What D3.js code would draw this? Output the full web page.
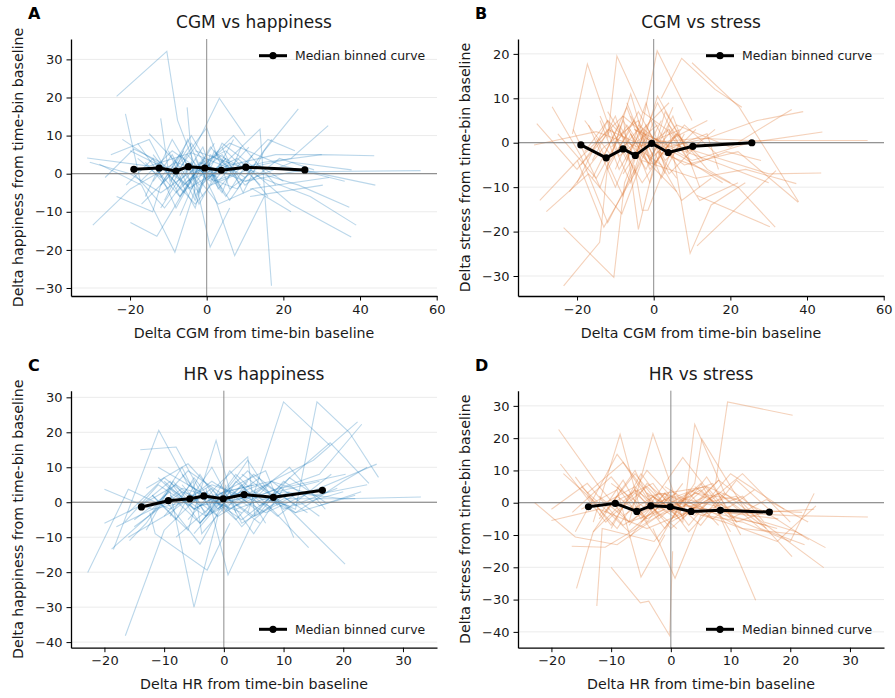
<!DOCTYPE html>
<html><head><meta charset="utf-8">
<script src="https://cdn.jsdelivr.net/npm/d3@7"></script>
<style>body{margin:0;background:#fff} text{font-family:"DejaVu Sans",sans-serif}</style>
</head><body><svg id="c" width="895" height="698"></svg>
<script>
// ---------- DATA ----------
const cgmX = [
 [-23.5,-10.4,-7.6,-3],[-31.2,-15,-4,7],[-29.7,-19.9,-8,3],[-30.5,-20,-12,-2],[-28,-17,-8.3,-3],
 [-21.2,-17.3,-9,1],[-26.5,-19,-12,-5],[-23.5,-14.1,-12,-6],[-19.9,-13,-5,2],[-12,-9.6,-3,3.3,10],
 [-5.1,-3,-1.5,4],[-8,-4,0.9,6],[-3,2,7.3,15],[5,13.9,16.9],[-1,12,25,55.8],
 [-2,10,25,44],[0,15,30,43.7],[3,14,27,39],[-5,8,22,37.7],[-3,11,24,37.2],
 [1,13,22,31.7],[4,9.5,15,23.9],[2,7.3,16,23],[-1,6,20,36],[-5,5,18,30],
 [-18,-11,-6,-1],[-16,-9,-2,5],[-14,-6,1,9],[-12,-4,3,11],[-20,-12,-3,6],
 [-17,-10,-4,4],[-9,-3,0.9,10],[-25,-15,-7,0],[-13,-7,-1,6,13],[-7,-1,5,12],
 [-15,-8,-2,4,12],[-11,-5,0,8,17],[-19,-11,-3,5,14],[-6,0,6,14,20],[-22,-13,-4,3],
 [-8,-2,7,18],[-4,3,12,22],[10,22.3,37.8],[11.3,31.9],[11.3,30.3],
 [-16,-10,-5,0,5],[-14,-9,-3,2,8],[-10,-6,-1,4,9],[-21,-14,-8,-2],[-6,-1,3,9,16],
 [-18,-12,-7,-2,3],[-2,4,10,19,28],[-12,-5,1,7]
];
const cgmHappy = [
 [20.3,32.1,14,2],[4.1,2,5.5,1],[-13.5,-4,3,-1],[3,0,-5,2],[2.5,-3,-20.6,-4],
 [15.7,-2,6,-1],[-1,6.5,3,-3],[-6,-10,-3,6],[-12.8,-16.4,-3,8],[14.5,-2,7,19.8,10],
 [17.4,-6,-3,2],[-4,3,-19.3,-9],[4,-6,-21.5,-6],[3,11.7,-29.4],[1,2,0.5,0.8],
 [3,-2,1,-3],[-1,3,5,4.7],[5,-1,-6,-13.5],[-2,4,-8,-16.6],[6,1,-3,-8.8],
 [-3,2,4,12.6],[7,-5,6,17],[-2,0,9,6],[2,8,2,-2],[-4,2,5,5],
 [8,-2,4,-6],[-6,9,-3,4],[5,-5,7,-3],[-3,10,-2,7],[6,2,-8,3],
 [-8,-1,8,-4],[2,-9,5,-1],[5,9,-6,3],[1,-6,4,-7,3],[-11,3,-6,5],
 [10.5,3,-5,8,2],[-7,5,-1,-4,9],[0,-9,2,6,-3],[4,12,-4,2,-2],[9,3,-4,6],
 [-5,1,10,-3],[1,-8,-4,-10],[-2,3,1],[-4,-1],[-6,-3],
 [3,-4,9,-2,4],[-2,5,-7,6,-1],[6,-3,2,-5,7],[-3,4,-9,2],[-1,7,-4,3,-6],
 [4,-1,5,-8,1],[0,5,-3,4,1],[-9,2,-2,9]
];
const cgmStress = [
 [-19.1,-30.3,-9,1],[-0.5,2.5,-1,3],[-13,-4,6,-2],[4.3,-6,3,-1],[-15.5,-7,-16,-4],
 [2,17.7,-3,4],[8.1,-3,-18,-6],[-32.2,-22.4,-5,3],[-4,-19,-7,5],[1,19.5,7,3,-5],
 [-5,-15.2,-15.2,-3],[6,-19.5,-2,-8],[-2,-5,-13,-8],[-1,2,-6],[0,1,0.5,0.5],
 [2,-4,0,2.4],[1,-3,-7,-6.8],[-1,1,5,7],[3,-5,-2,-13.4],[-4,-8,-6,-9.2],
 [-2,-6,-10,-19],[3,-24.9,-14,-9],[10,19,12,8],[-3,4,-1,7.5],[3,-1,-5,-9],
 [5,-3,11,-4],[-8,4,-6,8],[6,-9,10.5,-2],[-6,7,-4,3],[-9,5,-3,-11],
 [4,-10,2,9],[-2,4,20.7,5],[2,-8,4,-5],[-3,8,-6,2,-4],[9,-4,6,-10],
 [1,-12,4,-7,0],[-1,5,-5,4,-3],[-5,3,-9,1,5],[6,-3,2,-6,-9],[-11,-1,5,-7],
 [-7,1,-3,-9],[4,-1,-13,-9],[18,8,-13.3],[-23.2,-6.3],[-11.9,-18.9],
 [-4,6,-7,5,-3],[5,-6,3,-8,2],[-6,2,-9,4,-2],[3,-10,5,-4],[2,-5,7,-2,3],
 [-2,5,-4,9,-6],[-1,3,-5,-2,-4],[7,-3,9,-1]
];
const hrX = [
 [-22.8,-16,-9,-2],[-16.5,-10,-4,3],[-18.5,-10.9,-6,1],[-15,-9,-5,-1],[-12,-6,-1.3,2],
 [-3,0.7,5,10],[4,10,17.8],[5,12,15.6,21,25.9],[-4,6,16,23.1],[0,8,15,22.4],
 [2,9,17.8,24.3],[-1,7,16,25.6],[3,11,20.3],[-2,7.5,14.2],[1,7,11.7],
 [2,10,20,33],[-20,-12,-4,5],[-16.6,-11,-3,4,11],[-14,-8,-2,6],[-12,-7,-3,2,8],
 [-13,-8.5,-5,1],[-9,-4,2,4,9],[-6,-1,4,5.2,13],[-10,-5,0,5,10],[-15,-7,0,7,14],
 [-11,-3,3,9,16],[-8,-2,4,10,19],[-18,-12,-6,0,6],[-13,-6,1,8,16],[-5,0,6,12,22],
 [-10,-4,2,9,18],[-7,-1,5,11,17],[-16,-9,-2,4],[-3,2,8,15,24],[-1,5,12,20],
 [-6,-2,3,10,22],[-20,-14,-8,-1],[-10,-5.1,-3.7,-0.2,0.3],[-16,-10,-4,2],[-18.8,-12,-7,-1],
 [6,12,20,24],[7.5,9.5,20.4],[-15.8,-13,-9,-4],[-12.4,-11.5,-2.8,1],
 [-12,-8,-4,0,4],[-9,-5,-1,3,7],[-7,-3,1,6,11],[-14,-9,-4,1],[-4,1,6,11,17],
 [0,5,10,16,23],[-11,-6,-2,3,8]
];
const hrHappy = [
 [-20.1,3.7,-2,5],[-38.2,-8,2,-3],[-13.5,20.6,5,-2],[-5,3,-30,-4],[2,-8,17.7,-3],
 [4,-20.8,-5,2],[-3,28.7,16.2],[3,-2,28.7,20,7.1],[-1,2,8,22.3],[3,6,12,23],
 [-1,4,17,5.4],[5,-3,4,10.9],[8,-2,-17.7],[5,-1,-13],[4,9,-10.1],
 [-2,3,1,1.5],[3.7,-2,1,5],[-5.7,5,-4,2,-1],[15,15.8,-3,7],[-3,10,-4,8,-2],
 [-8,6,-2,4],[2,-6,7,12,-1],[-5,5,13,-4,3],[6,-2,3,-9,4],[-7,3,-1,5,-3],
 [10,2,-5,3,6],[-10,-1,9,-2,4],[-7,-2,9,2,-6],[4,11,-2,6,-4],[-9,1,5,-3,2],
 [1,-12,6,-4,8],[8,-4,2,10,-2],[-10,-3,6,-1],[3,-5,6,2,5],[-2,8,-1,3],
 [0,10,-6,1,1],[-6,-1,5,-4],[-4,6,-9,-2,5],[-3,7,-1,2],[-13.4,-3,4,1],
 [2,-3,6,10],[1,4,8],[-11,-6,4,-2],[-3,-9,-19.4,-6],
 [2,-5,8,-3,6],[-4,7,-2,5,-6],[5,-3,9,-1,3],[-1,6,-6,3],[-6,4,-3,7,0],
 [2,-4,6,-1,3],[7,-1,4,-7,2]
];
const hrStress = [
 [0,-10.6,-13,-4],[-3,8,-5,2],[12,-6,3,-8],[-2,4,-23,-10],[-5,9,-2,6],
 [-8,-23.4,-4,-1],[5,-4,-8],[-3,2,-6,-9,-13.9],[2,5,-3,-11.5],[-6,3,-8,-13],
 [-2,-6,-12,-1],[1,-3,-7,-20.1],[-1,2,-16.7],[3,-1,-30.2],[2,6,-10],
 [-1,-3,-4,-4.4],[-5.5,-2,-8,-1],[-13.5,-13.8,-5,3,1],[3,12.5,-4,2],[2,-6,21.4,-5,7],
 [-6,21.2,-3,3],[-3,5,-6,24.3,3],[4,-8,6,19.7,-4],[-8,9,-3,6,-9],[5,-9,2,-5,4],
 [-1,6,-9,3,-7],[-4,3,-4,9,-2],[9,-1,5,-8,2],[-9,4,-5,3,-8],[-6,2,-2,-8,-10],
 [6,-2,14,-3,-5],[-11,3,-7,7,-3],[-9,15,-2,4],[2,-4,7,-3,-2],[5,-2,9,-6],
 [-1,-12,4,-2,-3],[-2,6,-7,1],[-20,-31,-30.5,-41.2,-15],[8,-7,10,-2],[22.7,5,-6,-2],
 [-4,-6,-12,2.9],[6,31.2,27.1],[-26.5,-9,2,-5],[-32,-8,-12,-3],
 [-4,7,-6,4,-3],[5,-5,3,-7,2],[-7,2,-4,8,-6],[2,-8,6,-2],[3,-3,5,-6,-2],
 [-2,4,-5,1,-6],[-3,10,-5,3,-7]
];
const cgmBinX = [-19.0,-12.4,-8.0,-4.8,-0.5,3.8,10.2,25.6];
const cgmHappyMedian = [1.15,1.5,0.7,1.85,1.5,0.9,1.7,1.0];
const cgmStressMedian = [-0.5,-3.4,-1.4,-2.85,-0.15,-2.2,-0.8,0.0];
const hrBinX = [-13.8,-9.3,-5.7,-3.35,-0.1,3.4,8.3,16.5];
const hrHappyMedian = [-1.35,0.45,1.0,1.8,1.0,2.2,1.4,3.4];
const hrStressMedian = [-1.25,-0.2,-2.7,-0.95,-1.25,-2.7,-2.35,-2.9];
const cgmTicks = [-20,0,20,40,60];
const hrTicks = [-20,-10,0,10,20,30];
const happyTicksA = [-30,-20,-10,0,10,20,30];
const stressTicksB = [-30,-20,-10,0,10,20];
const happyTicksC = [-40,-30,-20,-10,0,10,20,30];
const stressTicksD = [-40,-30,-20,-10,0,10,20,30];
const legendLabel = "Median binned curve";

// ---------- LAYOUT ----------
const BLUE = "#1f7ab8", ORANGE = "#e07b39";
const panels = [
 {letter:"A", title:"CGM vs happiness", xs:cgmX, ys:cgmHappy, bx:cgmBinX, by:cgmHappyMedian, color:BLUE, op:0.3,
  left:71, top:39, w:366, h:257, xDom:[-35.4,60.08], yDom:[-32.1,35.35], xTicks:cgmTicks, yTicks:happyTicksA,
  xLabel:"Delta CGM from time-bin baseline", yLabel:"Delta happiness from time-bin baseline", legTop:true},
 {letter:"B", title:"CGM vs stress", xs:cgmX, ys:cgmStress, bx:cgmBinX, by:cgmStressMedian, color:ORANGE, op:0.35,
  left:518, top:39, w:366, h:257, xDom:[-35.4,60.08], yDom:[-34.5,23.35], xTicks:cgmTicks, yTicks:stressTicksB,
  xLabel:"Delta CGM from time-bin baseline", yLabel:"Delta stress from time-bin baseline", legTop:true},
 {letter:"C", title:"HR vs happiness", xs:hrX, ys:hrHappy, bx:hrBinX, by:hrHappyMedian, color:BLUE, op:0.3,
  left:71, top:390.7, w:366, h:257, xDom:[-25.6,35.7], yDom:[-41.6,31.9], xTicks:hrTicks, yTicks:happyTicksC,
  xLabel:"Delta HR from time-bin baseline", yLabel:"Delta happiness from time-bin baseline", legTop:false},
 {letter:"D", title:"HR vs stress", xs:hrX, ys:hrStress, bx:hrBinX, by:hrStressMedian, color:ORANGE, op:0.35,
  left:518, top:390.7, w:366, h:257, xDom:[-25.6,35.7], yDom:[-44.9,34.7], xTicks:hrTicks, yTicks:stressTicksD,
  xLabel:"Delta HR from time-bin baseline", yLabel:"Delta stress from time-bin baseline", legTop:false}
];

const svg = d3.select("#c");
const TXT = "#1a1a1a";

panels.forEach(p => {
  const g = svg.append("g").attr("transform", `translate(${p.left},${p.top})`);
  const x = d3.scaleLinear().domain(p.xDom).range([0, p.w]);
  const y = d3.scaleLinear().domain(p.yDom).range([p.h, 0]);

  // grid
  g.append("g").selectAll("line").data(p.yTicks).join("line")
    .attr("x1",0).attr("x2",p.w).attr("y1",d=>y(d)).attr("y2",d=>y(d))
    .attr("stroke","#ebebeb").attr("stroke-width",1);

  // spaghetti
  const line = d3.line().x(d=>x(d[0])).y(d=>y(d[1]));
  const series = p.xs.map((xa,i)=>xa.map((v,j)=>[v,p.ys[i][j]]));
  g.append("g").selectAll("path").data(series).join("path")
    .attr("d", line).attr("fill","none").attr("stroke",p.color)
    .attr("stroke-opacity",p.op).attr("stroke-width",1.1);

  // zero lines
  g.append("line").attr("x1",x(0)).attr("x2",x(0)).attr("y1",0).attr("y2",p.h)
    .attr("stroke","#8c8c8c").attr("stroke-width",1);
  g.append("line").attr("x1",0).attr("x2",p.w).attr("y1",y(0)).attr("y2",y(0))
    .attr("stroke","#7a7a7a").attr("stroke-width",1);

  // median
  const med = p.bx.map((v,i)=>[v,p.by[i]]);
  g.append("path").datum(med).attr("d",line).attr("fill","none")
    .attr("stroke","#000").attr("stroke-width",3).attr("stroke-linejoin","round");
  g.append("g").selectAll("circle").data(med).join("circle")
    .attr("cx",d=>x(d[0])).attr("cy",d=>y(d[1])).attr("r",3.6).attr("fill","#000");

  // axes
  const ax = g.append("g").attr("transform",`translate(0,${p.h})`)
    .call(d3.axisBottom(x).tickValues(p.xTicks).tickSize(4.5).tickSizeOuter(0).tickPadding(4));
  const ay = g.append("g")
    .call(d3.axisLeft(y).tickValues(p.yTicks).tickSize(4.5).tickSizeOuter(0).tickPadding(4));
  [ax, ay].forEach(a => {
    a.select(".domain").attr("stroke","#000").attr("stroke-width",1.3);
    a.selectAll(".tick line").attr("stroke","#000").attr("stroke-width",1);
    a.selectAll(".tick text").attr("font-size",13).attr("fill",TXT)
      .attr("font-family","DejaVu Sans, sans-serif");
  });

  // labels
  g.append("text").attr("x",p.w/2).attr("y",p.h+41.5).attr("text-anchor","middle")
    .attr("font-size",14.2).attr("fill",TXT).text(p.xLabel);
  g.append("text").attr("transform",`translate(-48.5,${p.h/2}) rotate(-90)`).attr("text-anchor","middle")
    .attr("font-size",14.2).attr("fill",TXT).text(p.yLabel);
  g.append("text").attr("x",p.w/2).attr("y",-11).attr("text-anchor","middle")
    .attr("font-size",17).attr("fill",TXT).text(p.title);
  g.append("text").attr("x",-43).attr("y",-20).attr("font-size",16).attr("font-weight","bold")
    .attr("fill","#000").text(p.letter);

  // legend
  const ly = p.legTop ? 16.7 : 238.6;
  const lg = g.append("g").attr("transform",`translate(188,${ly})`);
  lg.append("line").attr("x1",0).attr("x2",28).attr("y1",0).attr("y2",0)
    .attr("stroke","#000").attr("stroke-width",3);
  lg.append("circle").attr("cx",14).attr("cy",0).attr("r",3.6).attr("fill","#000");
  lg.append("text").attr("x",36).attr("y",4.5).attr("font-size",12.4).attr("fill",TXT).text(legendLabel);
});
</script></body></html>
